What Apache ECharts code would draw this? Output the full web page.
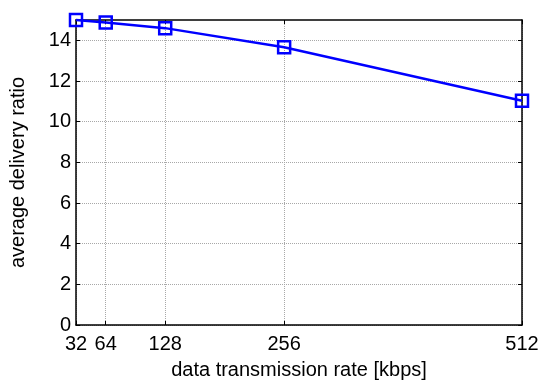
<!DOCTYPE html>
<html><head><meta charset="utf-8">
<script src="https://cdn.jsdelivr.net/npm/echarts@6/dist/echarts.min.js"></script>
<style>html,body{margin:0;padding:0;background:#fff}#c{width:550px;height:385px}</style>
</head><body><div id="c"></div>
<script>
const xTicks = [32, 64, 128, 256, 512];
const yTicks = [0, 2, 4, 6, 8, 10, 12, 14];
const rates = [32, 64, 128, 256, 512];
const deliveryRatio = [15.0, 14.88, 14.6, 13.66, 11.03];

const font = 'Liberation Sans, Arial, sans-serif';
const chart = echarts.init(document.getElementById('c'));
const grid = {left: 76, right: 28, top: 20, bottom: 55};
const axisLine = {show: true, onZero: false, lineStyle: {color: '#000', width: 1.5}};
const gridLine = {show: true, lineStyle: {color: '#a8a8a8', type: [1, 1], width: 1}};
chart.setOption({
  animation: false,
  grid: grid,
  xAxis: [{
    type: 'value', min: 32, max: 512, position: 'bottom',
    name: 'data transmission rate [kbps]', nameLocation: 'middle', nameGap: 35,
    nameTextStyle: {fontFamily: font, fontSize: 20, color: '#000'},
    axisLine: axisLine,
    axisTick: {show: true, inside: true, length: 4, customValues: xTicks, lineStyle: {color: '#000'}},
    axisLabel: {customValues: xTicks, fontFamily: font, fontSize: 20, color: '#000', margin: 9},
    splitLine: gridLine
  }, {
    type: 'value', min: 32, max: 512, position: 'top',
    axisLine: axisLine,
    axisTick: {show: true, inside: true, length: 4, customValues: xTicks, lineStyle: {color: '#000'}},
    axisLabel: {show: false, customValues: xTicks},
    splitLine: {show: false}
  }],
  yAxis: [{
    type: 'value', min: 0, max: 15, interval: 2, position: 'left',
    name: 'average delivery ratio', nameLocation: 'middle', nameGap: 48,
    nameTextStyle: {fontFamily: font, fontSize: 20, color: '#000'},
    axisLine: axisLine,
    axisTick: {show: true, inside: true, length: 4, customValues: yTicks, lineStyle: {color: '#000'}},
    axisLabel: {customValues: yTicks, fontFamily: font, fontSize: 20, color: '#000', margin: 5},
    splitLine: gridLine
  }, {
    type: 'value', min: 0, max: 15, interval: 2, position: 'right',
    axisLine: axisLine,
    axisTick: {show: true, inside: true, length: 4, customValues: yTicks, lineStyle: {color: '#000'}},
    axisLabel: {show: false, customValues: yTicks},
    splitLine: {show: false}
  }],
  series: [{
    type: 'line',
    data: rates.map((r, i) => [r, deliveryRatio[i]]),
    clip: false,
    symbol: 'rect', symbolSize: 12,
    lineStyle: {color: '#0000ff', width: 2.5},
    itemStyle: {color: 'transparent', borderColor: '#0000ff', borderWidth: 2.5}
  }]
});
</script></body></html>
